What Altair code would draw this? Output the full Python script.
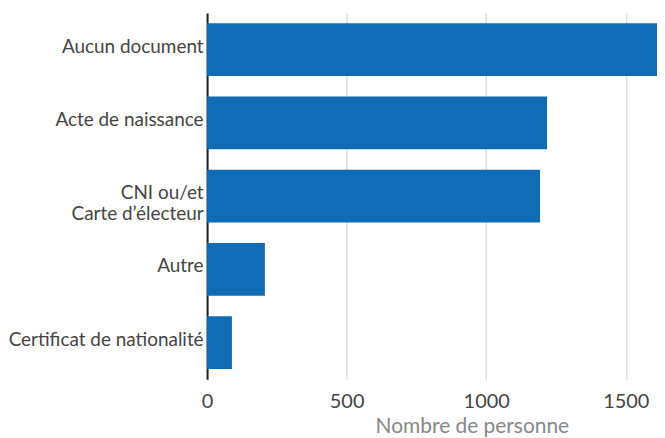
import altair as alt
import pandas as pd

categories = ["Aucun document", "Acte de naissance", "CNI ou/et|Carte d’électeur", "Autre", "Certificat de nationalité"]
values = [1612, 1218, 1193, 207, 89]
tick_values = [0, 500, 1000, 1500]

df = pd.DataFrame({"cat": categories, "val": values})

chart = alt.Chart(df).mark_bar(color="#106db5").encode(
    y=alt.Y("cat:N", sort=categories, title=None,
            scale=alt.Scale(paddingInner=0.28, paddingOuter=0.14),
            axis=alt.Axis(labelExpr="split(datum.label, '|')", labelFontSize=19, labelColor="#444",
                          labelFont="Lato", labelPadding=4, ticks=False, tickSize=0,
                          domainColor="#222", domainWidth=2, grid=False, labelOffset=-3,
                          minExtent=198, maxExtent=198, labelLineHeight=21, labelLimit=300)),
    x=alt.X("val:Q", title="Nombre de personne",
            scale=alt.Scale(domain=[0, 1612], nice=False),
            axis=alt.Axis(values=tick_values, format="d", labelFontSize=20, labelColor="#444", labelFont="Lato",
                          labelPadding=12, ticks=False, tickSize=0, domain=False,
                          grid=True, gridColor="#dddddd", gridWidth=1.5,
                          titleFont="Lato", titleFontSize=21, titleColor="#888", titleFontWeight="normal",
                          titleX=266, titleY=36, titleAlign="center", titleBaseline="top",
                          labelFlush=False)),
).properties(
    width=452, height=368,
    padding={"left": 0, "top": 4, "right": 0, "bottom": 0},
).configure_view(stroke=None)

chart.save("out.html", embed_options={"renderer": "svg", "actions": False})
